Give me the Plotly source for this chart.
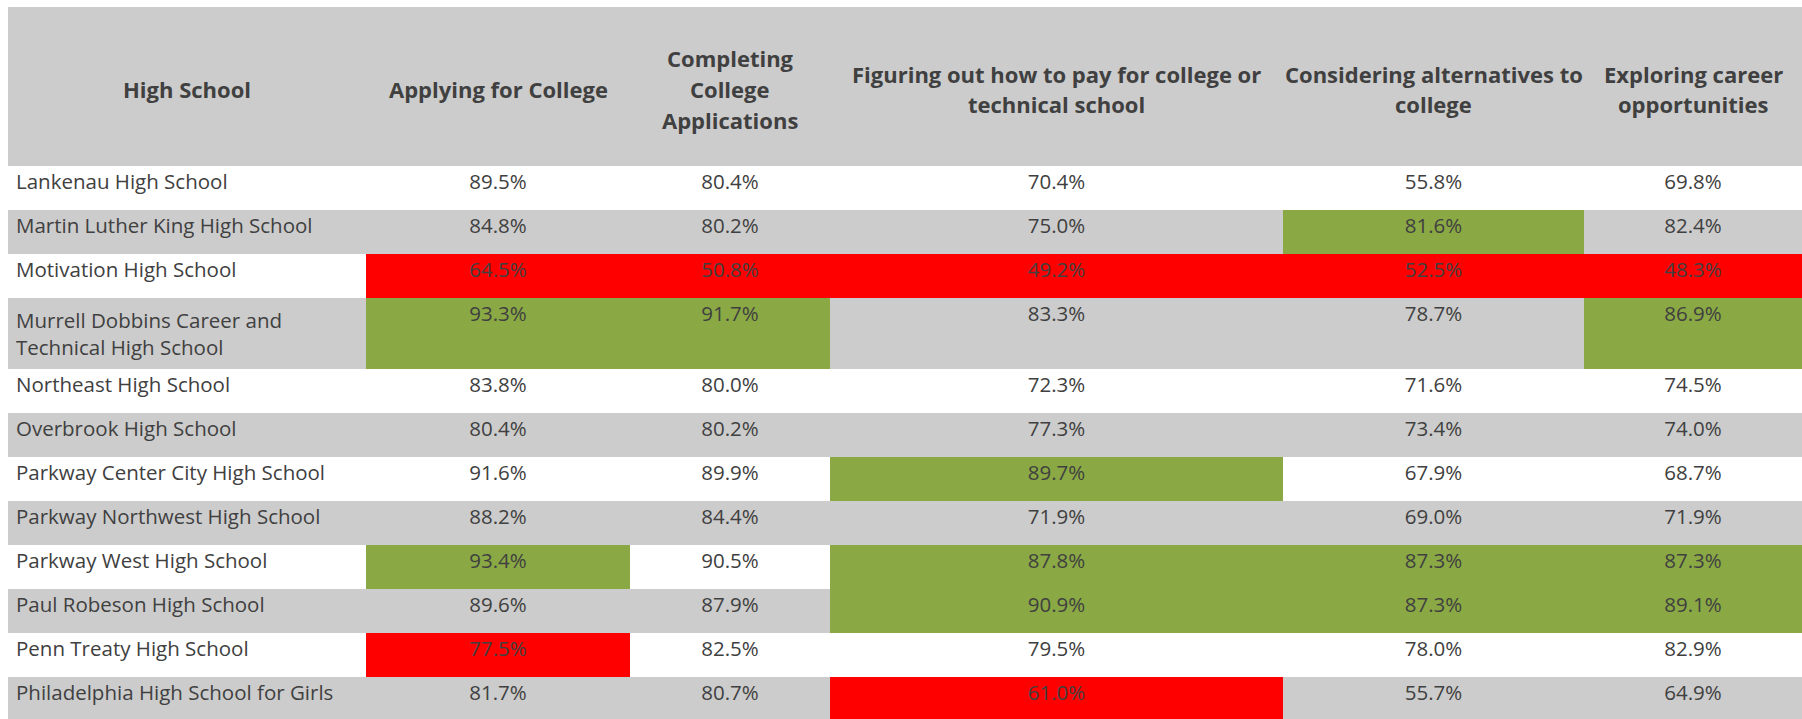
import plotly.graph_objects as go

schools = [
    "Lankenau High School",
    "Martin Luther King High School",
    "Motivation High School",
    "Murrell Dobbins Career and<br>Technical High School",
    "Northeast High School",
    "Overbrook High School",
    "Parkway Center City High School",
    "Parkway Northwest High School",
    "Parkway West High School",
    "Paul Robeson High School",
    "Penn Treaty High School",
    "Philadelphia High School for Girls",
]
applying = [89.5, 84.8, 64.5, 93.3, 83.8, 80.4, 91.6, 88.2, 93.4, 89.6, 77.5, 81.7]
completing = [80.4, 80.2, 50.8, 91.7, 80.0, 80.2, 89.9, 84.4, 90.5, 87.9, 82.5, 80.7]
paying = [70.4, 75.0, 49.2, 83.3, 72.3, 77.3, 89.7, 71.9, 87.8, 90.9, 79.5, 61.0]
alternatives = [55.8, 81.6, 52.5, 78.7, 71.6, 73.4, 67.9, 69.0, 87.3, 87.3, 78.0, 55.7]
careers = [69.8, 82.4, 48.3, 86.9, 74.5, 74.0, 68.7, 71.9, 87.3, 89.1, 82.9, 64.9]

headers = [
    "High School",
    "Applying for College",
    "Completing<br>College<br>Applications",
    "Figuring out how to pay for college or<br>technical school",
    "Considering alternatives to<br>college",
    "Exploring career<br>opportunities",
]

# highlight flags per column: "g" = high, "r" = low, "" = none
flags_applying = ["", "", "r", "g", "", "", "", "", "g", "", "r", ""]
flags_completing = ["", "", "r", "g", "", "", "", "", "", "", "", ""]
flags_paying = ["", "", "r", "", "", "", "g", "", "g", "g", "", "r"]
flags_alternatives = ["", "g", "r", "", "", "", "", "", "g", "g", "", ""]
flags_careers = ["", "", "r", "g", "", "", "", "", "g", "g", "", ""]

# ---- styling ----
GREY = "#CCCCCC"
WHITE = "#FFFFFF"
GREEN = "#8AA944"
RED = "#FF0000"
TEXT = "#404040"
FONT = "Open Sans"

fig_w, fig_h = 1802, 719
margin_l, margin_t = 8, 7
col_widths = [358, 264, 200, 453, 301, 218]
header_h = 159
row_h = 44

value_cols = [applying, completing, paying, alternatives, careers]
flag_cols = [flags_applying, flags_completing, flags_paying, flags_alternatives, flags_careers]

band = [WHITE if i % 2 == 0 else GREY for i in range(len(schools))]
fills = [band]
for flags in flag_cols:
    col = []
    for i, f in enumerate(flags):
        col.append(GREEN if f == "g" else RED if f == "r" else band[i])
    fills.append(col)

cell_values = [schools] + [[f"{v:.1f}%" for v in col] for col in value_cols]

fig = go.Figure(
    go.Table(
        columnwidth=col_widths,
        columnorder=list(range(len(col_widths))),
        header=dict(
            values=[""] * len(headers),
            fill_color=GREY,
            line=dict(width=0, color=GREY),
            height=header_h,
        ),
        cells=dict(
            values=cell_values,
            fill_color=fills,
            line=dict(width=0, color=WHITE),
            align=["left"] + ["center"] * 5,
            font=dict(family=FONT, size=20.5, color=TEXT),
            height=row_h,
        ),
        domain=dict(x=[0, 1], y=[0, 1]),
    )
)

# header labels, vertically centred in the header band
plot_w = fig_w - margin_l
plot_h = fig_h - margin_t
header_center = 89
line_gap = 31
x0 = margin_l
for w, label in zip(col_widths, headers):
    cx = x0 + w / 2
    lines = label.split("<br>")
    n = len(lines)
    for k, line in enumerate(lines):
        cy = header_center + (k - (n - 1) / 2) * line_gap
        fig.add_annotation(
            x=(cx - margin_l) / plot_w,
            y=1 - (cy - margin_t) / plot_h,
            xref="paper",
            yref="paper",
            text=f"<b>{line}</b>",
            showarrow=False,
            xanchor="center",
            yanchor="middle",
            font=dict(family=FONT, size=22, color=TEXT),
        )
    x0 += w

fig.update_layout(
    width=fig_w,
    height=fig_h,
    margin=dict(l=margin_l, r=0, t=margin_t, b=0, pad=0),
    paper_bgcolor=WHITE,
    plot_bgcolor=WHITE,
)

fig.write_html(
    "out.html",
    config={"displayModeBar": False},
    post_script="document.body.style.margin='0';document.body.style.overflow='hidden';",
)
